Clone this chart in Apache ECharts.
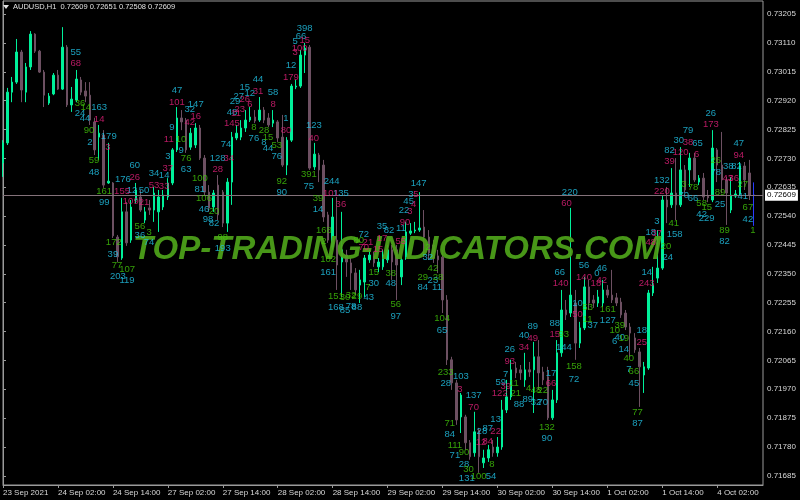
<!DOCTYPE html>
<html><head><meta charset="utf-8">
<script src="https://cdn.jsdelivr.net/npm/echarts@6/dist/echarts.min.js"></script>
<style>html,body{margin:0;padding:0;background:#000}#c{width:800px;height:500px}</style>
</head><body><div id="c"></div>
<script>
// ---- time axis ----
const sessions = [['23 Sep',14,23],['24 Sep',0,23],['27 Sep',0,23],['28 Sep',0,23],['29 Sep',0,23],['30 Sep',0,23],['1 Oct',0,23],['4 Oct',0,12]];
const categories = [];
sessions.forEach(([d,h0,h1]) => { for (let h = h0; h <= h1; h++) categories.push(d + ' ' + String(h).padStart(2,'0') + ':00'); });
const timeLabels = ['23 Sep 2021','24 Sep 02:00','24 Sep 14:00','27 Sep 02:00','27 Sep 14:00','28 Sep 02:00','28 Sep 14:00','29 Sep 02:00','29 Sep 14:00','30 Sep 02:00','30 Sep 14:00','1 Oct 02:00','1 Oct 14:00','4 Oct 02:00'];
const barsPerTimeLabel = 12;
const priceTicks = [0.71685,0.71780,0.71875,0.71970,0.72065,0.72160,0.72255,0.72350,0.72445,0.72540,0.72635,0.72730,0.72825,0.72920,0.73015,0.73110,0.73205];
const symbolName = 'AUDUSD,H1';
const currentPrice = 0.72609;

// ---- OHLC ----
const open = [0.72715,0.72781,0.72948,0.72981,0.73080,0.72948,0.73031,0.73139,0.73083,0.73014,0.72912,0.72942,0.73004,0.72958,0.73096,0.72906,0.72922,0.72988,0.72952,0.72938,0.72850,0.72800,0.72807,0.72649,0.72649,0.72471,0.72402,0.72554,0.72461,0.72593,0.72603,0.72527,0.72567,0.72560,0.72554,0.72570,0.72603,0.72649,0.72758,0.72863,0.72856,0.72767,0.72774,0.72830,0.72731,0.72619,0.72570,0.72642,0.72619,0.72517,0.72652,0.72797,0.72800,0.72830,0.72856,0.72866,0.72856,0.72889,0.72863,0.72846,0.72850,0.72800,0.72708,0.72790,0.72965,0.72968,0.73070,0.73096,0.72702,0.72741,0.72708,0.72544,0.72438,0.72461,0.72389,0.72412,0.72386,0.72353,0.72313,0.72323,0.72396,0.72409,0.72373,0.72373,0.72396,0.72429,0.72429,0.72340,0.72405,0.72484,0.72491,0.72494,0.72504,0.72471,0.72445,0.72409,0.72405,0.72264,0.72067,0.71991,0.71879,0.71879,0.71794,0.71761,0.71836,0.71728,0.71744,0.71780,0.71761,0.71780,0.71902,0.71945,0.72040,0.72034,0.72001,0.72034,0.72034,0.72077,0.72027,0.72011,0.71876,0.71935,0.72090,0.72231,0.72221,0.72254,0.72122,0.72172,0.72307,0.72264,0.72254,0.72254,0.72297,0.72280,0.72271,0.72257,0.72221,0.72175,0.72139,0.72093,0.72017,0.72040,0.72287,0.72336,0.72369,0.72593,0.72577,0.72616,0.72577,0.72692,0.72692,0.72731,0.72652,0.72665,0.72606,0.72593,0.72758,0.72708,0.72659,0.72560,0.72606,0.72613,0.72705,0.72682,0.72609];
const close = [0.72781,0.72948,0.72981,0.73080,0.72955,0.73031,0.73139,0.73083,0.73014,0.72938,0.72935,0.73004,0.72958,0.73096,0.72906,0.72925,0.72991,0.72948,0.72935,0.72856,0.72758,0.72813,0.72642,0.72655,0.72475,0.72406,0.72554,0.72452,0.72570,0.72626,0.72560,0.72554,0.72560,0.72616,0.72603,0.72609,0.72649,0.72758,0.72863,0.72850,0.72758,0.72813,0.72830,0.72731,0.72619,0.72567,0.72616,0.72544,0.72517,0.72652,0.72800,0.72813,0.72830,0.72856,0.72866,0.72853,0.72889,0.72856,0.72840,0.72856,0.72797,0.72708,0.72790,0.72968,0.72968,0.73070,0.73093,0.72698,0.72744,0.72692,0.72537,0.72461,0.72537,0.72379,0.72429,0.72389,0.72353,0.72297,0.72330,0.72402,0.72412,0.72386,0.72389,0.72412,0.72429,0.72389,0.72379,0.72396,0.72488,0.72491,0.72494,0.72501,0.72471,0.72419,0.72402,0.72396,0.72264,0.72067,0.71991,0.71869,0.71951,0.71794,0.71748,0.71830,0.71748,0.71744,0.71771,0.71761,0.71780,0.71902,0.71945,0.72034,0.72024,0.72024,0.72034,0.72027,0.72077,0.72024,0.72001,0.71876,0.71935,0.72090,0.72231,0.72215,0.72280,0.72122,0.72172,0.72307,0.72254,0.72254,0.72274,0.72297,0.72280,0.72264,0.72254,0.72215,0.72175,0.72155,0.72100,0.72044,0.72044,0.72287,0.72313,0.72369,0.72593,0.72570,0.72616,0.72577,0.72692,0.72626,0.72731,0.72659,0.72665,0.72603,0.72600,0.72764,0.72708,0.72659,0.72616,0.72609,0.72613,0.72705,0.72659,0.72609,0.72609];
const low = [0.72669,0.72774,0.72915,0.72975,0.72915,0.72915,0.73021,0.73077,0.73011,0.72899,0.72906,0.72938,0.72955,0.72955,0.72899,0.72883,0.72915,0.72938,0.72915,0.72840,0.72741,0.72725,0.72633,0.72646,0.72468,0.72389,0.72396,0.72442,0.72452,0.72583,0.72554,0.72517,0.72544,0.72521,0.72488,0.72560,0.72593,0.72642,0.72751,0.72823,0.72748,0.72758,0.72764,0.72725,0.72609,0.72554,0.72554,0.72527,0.72504,0.72488,0.72577,0.72790,0.72790,0.72817,0.72850,0.72846,0.72850,0.72846,0.72833,0.72833,0.72784,0.72702,0.72675,0.72784,0.72958,0.72962,0.73011,0.72692,0.72692,0.72652,0.72521,0.72452,0.72429,0.72297,0.72274,0.72340,0.72297,0.72280,0.72254,0.72274,0.72386,0.72373,0.72356,0.72363,0.72386,0.72330,0.72264,0.72313,0.72396,0.72478,0.72484,0.72488,0.72405,0.72396,0.72386,0.72353,0.72221,0.72050,0.71968,0.71853,0.71826,0.71771,0.71738,0.71748,0.71695,0.71711,0.71731,0.71748,0.71748,0.71771,0.71892,0.71935,0.72007,0.72001,0.71978,0.72011,0.71892,0.71968,0.71984,0.71869,0.71869,0.71925,0.72077,0.72198,0.72208,0.72067,0.72106,0.72165,0.72231,0.72238,0.72241,0.72241,0.72271,0.72254,0.72244,0.72205,0.72165,0.72077,0.72090,0.71912,0.71958,0.72034,0.72277,0.72320,0.72363,0.72517,0.72567,0.72527,0.72570,0.72616,0.72636,0.72652,0.72642,0.72593,0.72586,0.72586,0.72652,0.72616,0.72511,0.72550,0.72600,0.72606,0.72626,0.72593,0.72508];
const high = [0.72790,0.72962,0.72998,0.73123,0.73087,0.73044,0.73149,0.73142,0.73087,0.73021,0.72945,0.73011,0.73021,0.73162,0.73103,0.72965,0.73021,0.72998,0.72981,0.72981,0.72863,0.72840,0.72823,0.72781,0.72652,0.72478,0.72600,0.72586,0.72593,0.72649,0.72626,0.72570,0.72593,0.72636,0.72626,0.72626,0.72665,0.72764,0.72899,0.72889,0.72863,0.72830,0.72846,0.72840,0.72741,0.72642,0.72626,0.72675,0.72626,0.72665,0.72817,0.72840,0.72856,0.72889,0.72899,0.72889,0.72932,0.72899,0.72879,0.72889,0.72856,0.72873,0.72800,0.72975,0.72988,0.73087,0.73110,0.73103,0.72781,0.72748,0.72725,0.72554,0.72600,0.72603,0.72554,0.72429,0.72402,0.72369,0.72363,0.72412,0.72429,0.72422,0.72402,0.72429,0.72445,0.72445,0.72445,0.72405,0.72521,0.72517,0.72521,0.72619,0.72560,0.72494,0.72461,0.72429,0.72429,0.72280,0.72077,0.72001,0.71958,0.71886,0.71803,0.71896,0.71843,0.71771,0.71787,0.71803,0.71813,0.71935,0.72001,0.72067,0.72060,0.72050,0.72090,0.72060,0.72126,0.72132,0.72044,0.72044,0.71968,0.72132,0.72297,0.72264,0.72567,0.72297,0.72192,0.72340,0.72330,0.72280,0.72297,0.72330,0.72313,0.72363,0.72287,0.72271,0.72231,0.72188,0.72155,0.72106,0.72060,0.72297,0.72373,0.72494,0.72609,0.72636,0.72698,0.72731,0.72767,0.72708,0.72748,0.72748,0.72675,0.72682,0.72626,0.72823,0.72764,0.72817,0.72669,0.72669,0.72626,0.72718,0.72718,0.72725,0.72651];

// ---- indicator numbers: [bar position, price, text] ----
const cyanLabels = [[15.9,0.73080,'55'],[21.0,0.72899,'163'],[16.8,0.72879,'24'],[17.9,0.72863,'44'],[23.1,0.72804,'179'],[19.0,0.72784,'2'],[19.9,0.72685,'48'],[28.8,0.72708,'60'],[26.2,0.72662,'176'],[28.2,0.72626,'12'],[30.8,0.72626,'50'],[22.1,0.72586,'99'],[29.9,0.72475,'36'],[31.9,0.72452,'74'],[24.0,0.72415,'39'],[25.1,0.72343,'203'],[27.1,0.72327,'119'],[33.0,0.72682,'34'],[35.2,0.72675,'14'],[36.0,0.72735,'3'],[38.0,0.72955,'47'],[36.9,0.72833,'9'],[38.9,0.72758,'9'],[40.0,0.72695,'63'],[40.8,0.72892,'32'],[42.1,0.72909,'147'],[43.0,0.72629,'81'],
[65.9,0.73159,'398'],[65.1,0.73133,'66'],[63.8,0.73116,'5'],[62.9,0.73037,'12'],[55.7,0.72991,'44'],[52.8,0.72965,'15'],[53.9,0.72945,'12'],[51.5,0.72935,'27'],[50.7,0.72919,'29'],[59.0,0.72948,'58'],[50.0,0.72883,'48'],[61.8,0.72863,'1'],[67.9,0.72837,'123'],[54.8,0.72797,'76'],[57.0,0.72784,'8'],[57.9,0.72764,'44'],[59.8,0.72738,'76'],[48.7,0.72777,'74'],[46.9,0.72731,'128'],[43.9,0.72563,'46'],[44.8,0.72530,'98'],[46.1,0.72517,'82'],[48.0,0.72435,'193'],[60.9,0.72619,'90'],[66.8,0.72639,'75'],[71.8,0.72655,'244'],[73.8,0.72616,'135'],[68.8,0.72563,'14'],[71.0,0.72356,'161'],[72.7,0.72241,'168'],[74.7,0.72231,'85'],[76.0,0.72244,'78'],[77.3,0.72241,'88'],[78.8,0.72481,'72'],[82.8,0.72507,'35'],[84.3,0.72494,'82'],[81.0,0.72320,'30'],[79.9,0.72271,'43'],[84.7,0.72317,'48'],[85.8,0.72211,'97'],
[90.8,0.72649,'147'],[89.1,0.72613,'3'],[88.6,0.72590,'45'],[87.6,0.72560,'22'],[86.9,0.72501,'11'],[92.8,0.72405,'32'],[93.9,0.72330,'23'],[91.7,0.72304,'84'],[94.8,0.72307,'11'],[95.9,0.72165,'65'],[96.7,0.71991,'28'],[100.0,0.72011,'103'],[102.8,0.71951,'137'],[97.6,0.71820,'84'],[98.7,0.71751,'71'],[100.7,0.71724,'28'],[101.3,0.71678,'131'],[106.6,0.71685,'54'],[104.6,0.71830,'28'],[105.9,0.71843,'87'],[108.7,0.71994,'59'],[109.8,0.72020,'7'],[112.7,0.71922,'88'],[107.6,0.71872,'13'],[110.7,0.72103,'26'],[113.8,0.72149,'40'],[115.7,0.72178,'89'],[114.6,0.71938,'89'],[116.4,0.71928,'32'],[117.9,0.71928,'70'],[119.7,0.72024,'17'],[118.8,0.71810,'90'],[120.5,0.72188,'88'],[122.5,0.72109,'144'],[121.6,0.72356,'66'],[124.7,0.72004,'72'],[123.8,0.72619,'220'],
[126.9,0.72379,'56'],[125.5,0.72254,'10'],[128.8,0.72182,'37'],[129.7,0.72353,'0'],[130.8,0.72369,'46'],[132.1,0.72198,'127'],[133.6,0.72129,'6'],[134.7,0.72142,'40'],[135.6,0.72103,'14'],[136.7,0.72034,'7'],[137.8,0.71991,'45'],[139.5,0.72165,'18'],[138.6,0.71859,'87'],[140.6,0.72356,'14'],[141.5,0.72488,'18'],[145.2,0.72405,'24'],[142.8,0.72524,'3'],[143.9,0.72659,'132'],[145.6,0.72758,'82'],[147.6,0.72790,'30'],[151.7,0.72781,'65'],[149.6,0.72823,'79'],[148.7,0.72609,'70'],[150.7,0.72600,'66'],[146.7,0.72481,'158'],[152.6,0.72547,'42'],[153.7,0.72534,'229'],[154.6,0.72879,'26'],[155.7,0.72685,'78'],[156.6,0.72580,'25'],[158.4,0.72705,'38'],[160.2,0.72705,'82'],[160.7,0.72781,'47'],[161.6,0.72606,'41'],[162.7,0.72530,'42'],[157.6,0.72458,'82']];
const magentaLabels = [[15.9,0.73044,'68'],[21.0,0.72860,'14'],[22.9,0.72767,'3'],[28.8,0.72669,'26'],[26.0,0.72623,'155'],[27.9,0.72590,'109'],[30.8,0.72586,'21'],[36.0,0.72698,'37'],[33.0,0.72642,'53'],[35.2,0.72639,'33'],[38.0,0.72915,'101'],[36.2,0.72794,'11'],[40.8,0.72850,'42'],[42.1,0.72869,'16'],
[65.9,0.73119,'15'],[64.8,0.73093,'100'],[63.8,0.73080,'3'],[62.9,0.72998,'179'],[55.7,0.72952,'31'],[52.8,0.72925,'26'],[53.9,0.72909,'6'],[59.0,0.72909,'8'],[51.7,0.72892,'23'],[50.9,0.72879,'11'],[50.0,0.72846,'145'],[61.8,0.72823,'80'],[67.9,0.72797,'40'],[49.3,0.72731,'34'],[46.9,0.72695,'28'],[71.6,0.72616,'101'],[73.8,0.72580,'36'],[78.8,0.72438,'70'],[81.9,0.72429,'15'],[82.8,0.72468,'17'],[79.7,0.72455,'21'],[86.9,0.72458,'55'],
[90.2,0.72613,'5'],[89.7,0.72577,'4'],[88.9,0.72554,'3'],[87.8,0.72521,'90'],[99.8,0.71971,'3'],[102.8,0.71912,'70'],[107.6,0.71833,'22'],[104.4,0.71794,'12'],[105.9,0.71797,'84'],[109.8,0.71978,'39'],[108.5,0.71958,'122'],[110.7,0.72063,'93'],[113.8,0.72109,'34'],[115.7,0.72139,'49'],[119.7,0.71988,'66'],[120.5,0.72152,'15'],[121.8,0.72317,'140'],[123.1,0.72583,'60'],
[126.9,0.72340,'140'],[125.5,0.72215,'50'],[129.5,0.72320,'18'],[130.8,0.72330,'42'],[139.5,0.72126,'25'],[140.6,0.72320,'243'],[142.8,0.72484,'37'],[141.5,0.72452,'48'],[143.9,0.72623,'220'],[145.6,0.72721,'39'],[148.0,0.72751,'120'],[149.6,0.72784,'38'],[151.5,0.72744,'6'],[154.6,0.72843,'173'],[158.3,0.72665,'43'],[159.6,0.72665,'36'],[160.7,0.72741,'94']];
const greenLabels = [[16.8,0.72912,'36'],[18.1,0.72899,'14'],[18.8,0.72823,'90'],[19.9,0.72725,'59'],[22.1,0.72623,'161'],[29.9,0.72507,'56'],[31.9,0.72488,'3'],[24.2,0.72455,'172'],[24.9,0.72379,'77'],[27.1,0.72366,'107'],[38.9,0.72794,'10'],[40.0,0.72731,'76'],[43.0,0.72665,'100'],[43.9,0.72600,'106'],[46.1,0.72554,'20'],[48.0,0.72471,'98'],[54.8,0.72833,'8'],[57.0,0.72823,'28'],[57.9,0.72800,'15'],[59.8,0.72774,'53'],[60.9,0.72655,'92'],[66.8,0.72679,'391'],[68.8,0.72600,'39'],[70.1,0.72494,'168'],[70.1,0.72458,'2'],[71.0,0.72396,'102'],[72.7,0.72277,'151'],[74.7,0.72274,'30'],[76.0,0.72280,'32'],[77.3,0.72277,'29'],[77.7,0.72461,'80'],[81.0,0.72356,'15'],[79.7,0.72307,'7'],[84.7,0.72353,'38'],[85.8,0.72248,'56'],[92.8,0.72438,'2'],[93.9,0.72369,'42'],[91.7,0.72340,'29'],[95.0,0.72340,'28'],[95.9,0.72205,'104'],[96.7,0.72027,'233'],[97.6,0.71859,'71'],[98.7,0.71787,'111'],[100.7,0.71761,'90'],[101.7,0.71708,'30'],[103.9,0.71682,'100'],[106.8,0.71724,'8'],[111.6,0.71991,'11'],[112.0,0.71958,'21'],[114.8,0.71974,'4'],[116.4,0.71968,'48'],[117.9,0.71965,'22'],[118.8,0.71846,'132'],[122.5,0.72152,'93'],[124.7,0.72044,'158'],[127.7,0.72238,'53'],[127.7,0.72201,'11'],[132.1,0.72234,'161'],[133.6,0.72165,'10'],[134.7,0.72182,'39'],[135.6,0.72139,'19'],[136.7,0.72073,'40'],[137.8,0.72030,'66'],[138.6,0.71895,'77'],[144.8,0.72442,'20'],[148.7,0.72646,'3'],[150.7,0.72636,'78'],[146.5,0.72517,'41'],[152.6,0.72583,'58'],[153.7,0.72570,'15'],[155.7,0.72725,'26'],[156.6,0.72619,'89'],[161.6,0.72646,'27'],[162.7,0.72570,'67'],[157.6,0.72494,'89'],[163.8,0.72494,'1']];

// ---- build ----
const BULL = '#00f09a', BEAR = '#6d5062', CUR = '#2a3cff';
const last = open.length - 1;
const candleData = open.map((o, i) => {
  const item = { value: [o, close[i], low[i], high[i]] };
  if (i === last) item.itemStyle = { color: CUR, color0: CUR, borderColor: CUR, borderColor0: CUR };
  return item;
});
const FONT = '"Liberation Sans", Arial, sans-serif';
function labelSeries(arr, color) {
  return {
    type: 'scatter', xAxisIndex: 1, yAxisIndex: 0, silent: true, animation: false, z: 6,
    symbolSize: 1, itemStyle: { color: 'rgba(0,0,0,0)' },
    data: arr.map(d => ({ value: [d[0], d[1]], name: d[2] })),
    label: { show: true, position: 'inside', formatter: p => p.name, color: color, fontSize: 9.5, fontFamily: FONT },
    labelLayout: { hideOverlap: false }
  };
}
const tickFn = (i) => i % barsPerTimeLabel === 0 && i / barsPerTimeLabel < timeLabels.length;
const ohlcText = [open[last], high[last], low[last], close[last]].map(v => v.toFixed(5)).join(' ');

const chart = echarts.init(document.getElementById('c'), null, { renderer: 'canvas' });
chart.setOption({
  backgroundColor: '#000',
  animation: false,
  grid: { left: 2, right: 37, top: 1, bottom: 15, show: true, borderColor: '#9a9a9a', borderWidth: 1 },
  xAxis: [{
    type: 'category', data: categories, boundaryGap: false, position: 'bottom',
    axisLine: { show: true, lineStyle: { color: '#9a9a9a' } },
    axisTick: { show: true, interval: tickFn, length: 3, lineStyle: { color: '#9a9a9a' } },
    axisLabel: { interval: tickFn, formatter: (v, i) => timeLabels[i / barsPerTimeLabel], align: 'left', margin: 4, color: '#d8d8d8', fontSize: 8, fontFamily: FONT, hideOverlap: false },
    splitLine: { show: false }
  }, {
    type: 'value', min: 0, max: categories.length - 1, show: false
  }],
  yAxis: {
    type: 'value', position: 'right', min: 0.71655, max: 0.73248, scale: true,
    splitLine: { show: false },
    axisLine: { show: true, lineStyle: { color: '#9a9a9a' } },
    axisTick: { show: true, customValues: priceTicks, length: 3, lineStyle: { color: '#9a9a9a' } },
    axisLabel: { customValues: priceTicks, formatter: v => v.toFixed(5), color: '#d8d8d8', fontSize: 8, fontFamily: FONT, margin: 4 }
  },
  series: [{
    type: 'candlestick', xAxisIndex: 0, yAxisIndex: 0, data: candleData, barWidth: 2, z: 2,
    itemStyle: { color: BULL, color0: BEAR, borderColor: BULL, borderColor0: BEAR, borderWidth: 1 },
    markLine: {
      silent: true, symbol: 'none', animation: false, precision: 5,
      data: [{ yAxis: currentPrice }],
      lineStyle: { color: '#84727a', type: 'solid', width: 1 },
      label: { show: true, position: 'end', distance: 2, formatter: p => Number(p.value).toFixed(5), backgroundColor: '#ffffff', color: '#000', padding: [2, 2, 1, 2], fontSize: 8, fontFamily: FONT }
    }
  },
  labelSeries(cyanLabels, '#22c6ea'),
  labelSeries(magentaLabels, '#e4217a'),
  labelSeries(greenLabels, '#42c80a')],
  graphic: [
    { type: 'polygon', shape: { points: [[3, 5], [9, 5], [6, 9]] }, style: { fill: '#e0e0e0' }, z: 10 },
    { type: 'text', x: 13, y: 7, style: { text: symbolName + '  ' + ohlcText, fill: '#e0e0e0', font: '7.5px ' + FONT, textVerticalAlign: 'middle' }, z: 10 },
    { type: 'text', x: 133, y: 249.5, style: { text: 'TOP-TRADING-INDICATORS.COM', fill: 'rgba(78,162,26,0.93)', font: 'italic bold 33px "Liberation Sans"', textVerticalAlign: 'middle' }, z: 5 }
  ]
});
</script>
</body></html>
